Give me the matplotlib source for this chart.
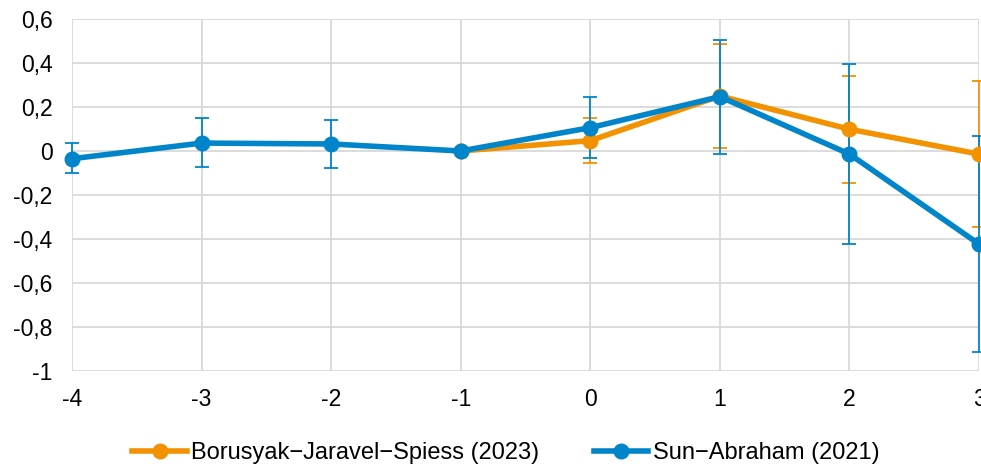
import matplotlib
matplotlib.use('Agg')
import matplotlib.pyplot as plt
from matplotlib.ticker import FuncFormatter

# event time
periods_sa = [-4, -3, -2, -1, 0, 1, 2, 3]
periods_bjs = [-1, 0, 1, 2, 3]

# Sun-Abraham (2021): estimate, lower and upper bound
sa_est = [-0.035, 0.036, 0.032, 0.0, 0.106, 0.247, -0.014, -0.423]
sa_lo = [-0.10, -0.073, -0.077, 0.0, -0.030, -0.012, -0.424, -0.912]
sa_hi = [0.035, 0.150, 0.140, 0.0, 0.247, 0.505, 0.397, 0.068]

# Borusyak-Jaravel-Spiess (2023)
bjs_est = [0.0, 0.047, 0.250, 0.099, -0.014]
bjs_lo = [0.0, -0.053, 0.012, -0.144, -0.344]
bjs_hi = [0.0, 0.149, 0.486, 0.341, 0.320]

ORANGE = '#F39200'
BLUE = '#0085CA'

plt.rcParams['font.family'] = ['Liberation Sans', 'DejaVu Sans']
plt.rcParams['axes.unicode_minus'] = False

fig = plt.figure(figsize=(9.81, 4.66), dpi=100)
W, H = 981, 466
ax = fig.add_axes([72 / W, 1 - 371 / H, (979 - 72) / W, (371 - 19) / H])


def draw(x, est, lo, hi, color, label):
    err = [[e - l for e, l in zip(est, lo)], [h - e for e, h in zip(est, hi)]]
    ax.errorbar(x, est, yerr=err, fmt='none', ecolor=color, elinewidth=1.3,
                capsize=5, capthick=1.3, zorder=3, clip_on=False)
    ax.plot(x, est, color=color, lw=4, marker='o', ms=10.5, label=label,
            zorder=4, clip_on=False)


draw(periods_bjs, bjs_est, bjs_lo, bjs_hi, ORANGE, 'Borusyak\u2212Jaravel\u2212Spiess (2023)')
draw(periods_sa, sa_est, sa_lo, sa_hi, BLUE, 'Sun\u2212Abraham (2021)')


def comma_fmt(v, pos):
    if abs(v - round(v)) < 1e-9:
        return str(int(round(v)))
    return f'{v:.1f}'.replace('.', ',')


ax.set_xlim(-4, 3)
ax.set_ylim(-1, 0.6)
ax.set_xticks(range(-4, 4))
ax.set_yticks([-1, -0.8, -0.6, -0.4, -0.2, 0, 0.2, 0.4, 0.6])
ax.yaxis.set_major_formatter(FuncFormatter(comma_fmt))
ax.grid(True, color='#d9d9d9', lw=1.3)
ax.set_axisbelow(True)
for s in ax.spines.values():
    s.set_visible(False)
ax.tick_params(length=0, labelsize=16.5, colors='black')
ax.tick_params(axis='x', pad=12)
ax.tick_params(axis='y', pad=14)

fig.legend(*ax.get_legend_handles_labels(), loc='center',
           bbox_to_anchor=(506 / W, 1 - 453 / H), ncol=2, frameon=False,
           fontsize=17, handlelength=2.3, handletextpad=0.2, columnspacing=2.3,
           borderpad=0, borderaxespad=0)

fig.savefig('out.png', dpi=100)
